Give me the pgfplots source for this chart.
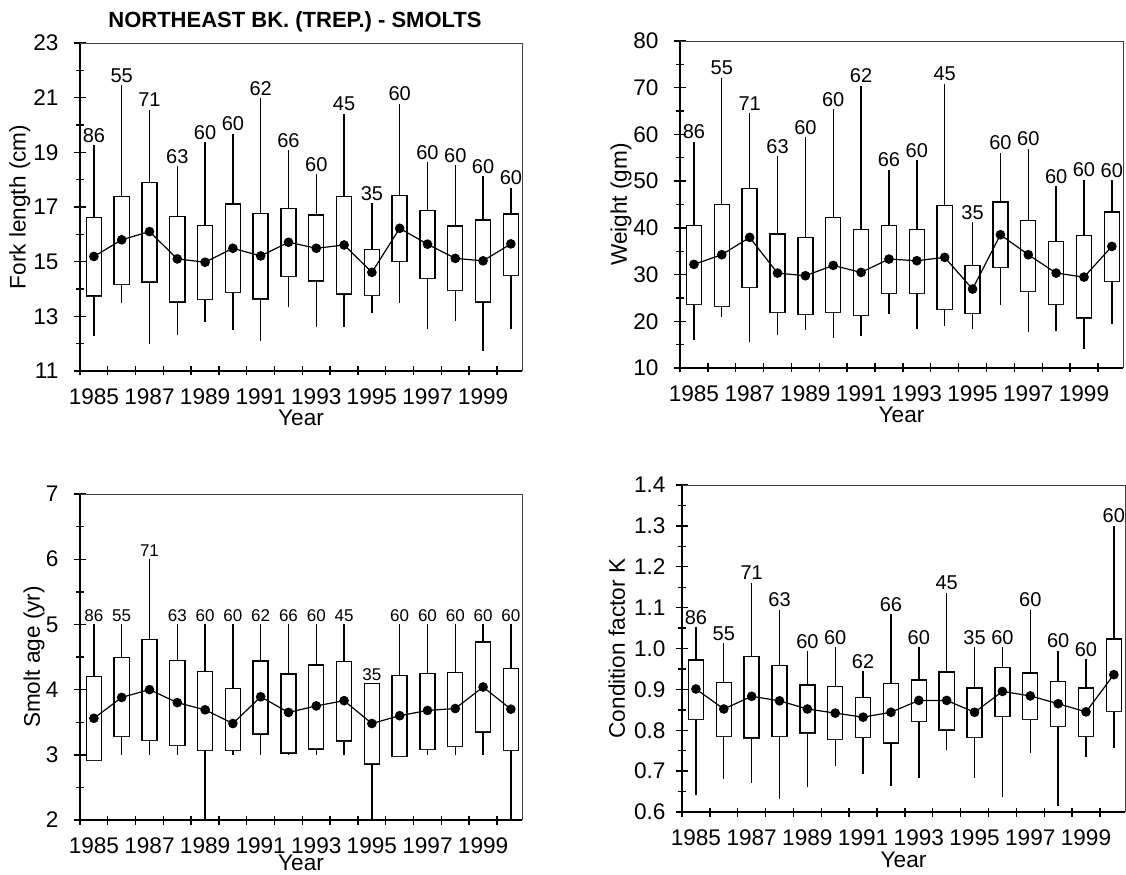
\documentclass[border=0pt]{standalone}
\usepackage{fontspec}
\setmainfont{Liberation Sans}
\usepackage{pgfplots}
\usepackage{pgfplotstable}
\pgfplotsset{compat=1.18}
\usepgfplotslibrary{statistics}

% yr lw q1 q3 uw mean n
\pgfplotstableread{
yr   lw    q1    q3    uw    mean  n
1985 12.28 13.74 16.61 19.25 15.19 86
1986 13.50 14.17 17.38 21.45 15.80 55
1987 11.99 14.26 17.90 20.56 16.10 71
1988 12.32 13.53 16.65 18.50 15.10 63
1989 12.80 13.62 16.33 19.37 14.98 60
1990 12.50 13.88 17.11 19.68 15.49 60
1991 12.11 13.63 16.77 20.97 15.21 62
1992 13.33 14.45 16.94 19.08 15.71 66
1993 12.62 14.29 16.70 18.20 15.49 60
1994 12.62 13.82 17.38 20.41 15.61 45
1995 13.13 13.77 15.45 17.14 14.61 35
1996 13.50 15.00 17.41 20.77 16.22 60
1997 12.52 14.38 16.87 18.63 15.64 60
1998 12.83 13.94 16.30 18.53 15.12 60
1999 11.74 13.53 16.52 18.12 15.03 60
2000 12.52 14.50 16.75 17.71 15.65 60
}\tabA

\pgfplotstableread{
yr   lw    q1    q3    uw    mean  n
1985 16.10 23.61 40.46 58.40 32.18 86
1986 20.90 23.18 44.95 72.10 34.25 55
1987 15.55 27.18 48.38 64.60 37.96 71
1988 17.10 21.90 38.67 55.30 30.32 63
1989 18.04 21.47 37.90 59.44 29.75 60
1990 16.47 21.83 42.20 65.44 31.96 60
1991 16.83 21.19 39.60 70.44 30.46 62
1992 21.60 25.90 40.46 52.45 33.32 66
1993 18.40 25.90 39.67 54.45 32.96 60
1994 18.90 22.54 44.81 70.86 33.68 45
1995 18.40 21.61 31.89 41.24 26.90 35
1996 23.40 31.46 45.52 56.09 38.53 60
1997 17.69 26.40 41.60 56.95 34.25 60
1998 17.90 23.54 37.05 48.90 30.32 60
1999 14.12 20.68 38.30 50.30 29.46 60
2000 19.47 28.54 43.40 50.20 36.03 60
}\tabB

\pgfplotstableread{
yr   lw   q1   q3   uw   mean n
1985 2.91 2.91 4.20 5.00 3.56 86
1986 3.00 3.28 4.49 5.00 3.88 55
1987 3.00 3.22 4.77 6.00 4.00 71
1988 3.00 3.14 4.45 5.00 3.80 63
1989 2.00 3.07 4.28 5.00 3.69 60
1990 3.00 3.07 4.02 5.00 3.48 60
1991 3.00 3.32 4.44 5.00 3.89 62
1992 3.00 3.03 4.24 5.00 3.65 66
1993 3.00 3.09 4.38 5.00 3.75 60
1994 3.00 3.21 4.43 5.00 3.83 45
1995 2.00 2.86 4.09 4.09 3.48 35
1996 2.97 2.97 4.22 5.00 3.60 60
1997 3.00 3.08 4.25 5.00 3.68 60
1998 3.00 3.13 4.26 5.00 3.71 60
1999 3.00 3.35 4.73 5.00 4.04 60
2000 2.00 3.07 4.32 5.00 3.70 60
}\tabC

\pgfplotstableread{
yr   lw    q1    q3    uw    mean  n
1985 0.641 0.827 0.972 1.052 0.901 86
1986 0.681 0.785 0.917 1.013 0.852 55
1987 0.671 0.781 0.980 1.161 0.883 71
1988 0.633 0.785 0.958 1.095 0.872 63
1989 0.661 0.793 0.911 0.993 0.852 60
1990 0.712 0.777 0.907 1.003 0.842 60
1991 0.693 0.783 0.880 0.944 0.832 62
1992 0.663 0.769 0.915 1.084 0.844 66
1993 0.683 0.821 0.923 1.003 0.873 60
1994 0.752 0.801 0.943 1.137 0.873 45
1995 0.683 0.782 0.903 1.003 0.844 35
1996 0.636 0.834 0.954 1.003 0.895 60
1997 0.744 0.826 0.940 1.095 0.884 60
1998 0.615 0.809 0.919 0.994 0.865 60
1999 0.734 0.785 0.903 0.974 0.845 60
2000 0.756 0.846 1.023 1.300 0.936 60
}\tabD

\pgfplotsset{
  panel/.style={
    scale only axis,
    axis lines*=left,
    xmin=1984.5, xmax=2000.4,
    xtick={1985,1987,...,1999},
    minor xtick={1984.5,1985.5,...,1999.5},
    major x tick style={draw=none},
    /pgf/number format/1000 sep={},
    /pgf/number format/assume math mode=true,
    tick align=center,
    major tick length=6.5pt, minor tick length=4.5pt,
    every tick/.style={black, line width=0.7pt},
    axis line style={line width=0.9pt},
    tick label style={font=\fontsize{11.3}{13}\selectfont},
    xticklabel style={anchor=base, yshift=-13.7pt},
    yticklabel style={xshift=-4pt},
    label style={font=\fontsize{11.3}{14}\selectfont},
    xlabel={Year},
    xlabel style={at={(axis description cs:0.5,0)}, anchor=base, yshift=-27.5pt},
    clip=false,
    boxplot/draw direction=y,
    boxplot/box extend=0.54,
    boxplot/whisker extend=0,
    boxplot/every median/.style={draw=none},
  },
  boxst/.style={black, line width=0.7pt, fill=white},
  meanst/.style={black, line width=0.6pt, mark=*, mark size=2.1pt, mark options={fill=black, solid}},
  nst/.style={only marks, mark=none, nodes near coords, point meta=explicit symbolic,
    every node near coord/.append style={anchor=south, inner sep=1.2pt, font=\fontsize{10}{12}\selectfont}},
}

% draws the 16 boxes of a table, row by row, from its own values
\newcommand\boxes[1]{%
  \pgfplotsinvokeforeach{0,...,15}{%
    \pgfplotstablegetelem{##1}{yr}\of#1\edef\Vyr{\pgfplotsretval}%
    \pgfplotstablegetelem{##1}{lw}\of#1\edef\Vlw{\pgfplotsretval}%
    \pgfplotstablegetelem{##1}{q1}\of#1\edef\Vqa{\pgfplotsretval}%
    \pgfplotstablegetelem{##1}{q3}\of#1\edef\Vqb{\pgfplotsretval}%
    \pgfplotstablegetelem{##1}{uw}\of#1\edef\Vuw{\pgfplotsretval}%
    \edef\doplot{\noexpand\addplot[boxst, boxplot prepared={draw position=\Vyr, lower whisker=\Vlw, lower quartile=\Vqa, median=\Vqa, upper quartile=\Vqb, upper whisker=\Vuw}] coordinates {};}%
    \doplot
  }%
}
% thin top and right frame lines
\newcommand\frameTR{\draw[black!75, line width=0.45pt] (rel axis cs:0,1) -- (rel axis cs:1,1) -- (rel axis cs:1,0);}

\begin{document}
\begin{tikzpicture}
\useasboundingbox (0,0) rectangle (563pt,437pt);

% ---------- Panel 1: Fork length
\begin{axis}[panel, at={(40pt,251.5pt)}, anchor=south west, width=221pt, height=164pt,
  ymin=11, ymax=23, ytick={11,13,...,23}, minor ytick={12,14,...,22},
  ylabel={Fork length (cm)},
  ylabel style={at={(axis description cs:-0.136,0.5)}, anchor=center},
  title={NORTHEAST BK. (TREP.) - SMOLTS},
  title style={font=\fontsize{11}{13}\selectfont\bfseries, xshift=-3pt, yshift=-4pt}]
\frameTR
\boxes{\tabA}
\addplot[meanst] table[x=yr, y=mean] {\tabA};
\addplot[nst] table[x=yr, y=uw, meta=n] {\tabA};
\end{axis}

% ---------- Panel 2: Weight
\begin{axis}[panel, at={(340pt,253pt)}, anchor=south west, width=221.5pt, height=163.5pt,
  ymin=10, ymax=80, ytick={10,20,...,80}, minor ytick={15,25,...,75},
  ylabel={Weight (gm)},
  ylabel style={at={(axis description cs:-0.133,0.5)}, anchor=center}]
\frameTR
\boxes{\tabB}
\addplot[meanst] table[x=yr, y=mean] {\tabB};
\addplot[nst] table[x=yr, y=uw, meta=n] {\tabB};
\end{axis}

% ---------- Panel 3: Smolt age
\begin{axis}[panel, at={(40pt,27pt)}, anchor=south west, width=221pt, height=163pt,
  ymin=2, ymax=7, ytick={2,3,...,7}, minor ytick={2.5,3.5,...,6.5},
  ylabel={Smolt age (yr)},
  ylabel style={at={(axis description cs:-0.104,0.5)}, anchor=center},
  xlabel style={yshift=2.5pt}]
\frameTR
\boxes{\tabC}
\addplot[meanst] table[x=yr, y=mean] {\tabC};
\addplot[nst, every node near coord/.append style={font=\fontsize{8.5}{10}\selectfont}] table[x=yr, y=uw, meta=n] {\tabC};
\end{axis}

% ---------- Panel 4: Condition factor
\begin{axis}[panel, at={(341pt,31pt)}, anchor=south west, width=221.5pt, height=163.5pt,
  ymin=0.6, ymax=1.4, ytick={0.6,0.7,0.8,0.9,1.0,1.1,1.2,1.3,1.4},
  minor ytick={0.65,0.75,0.85,0.95,1.05,1.15,1.25,1.35},
  yticklabel style={xshift=2.5pt, /pgf/number format/.cd, fixed, fixed zerofill, precision=1},
  ylabel={Condition factor K},
  ylabel style={at={(axis description cs:-0.147,0.5)}, anchor=center}]
\frameTR
\boxes{\tabD}
\addplot[meanst] table[x=yr, y=mean] {\tabD};
\addplot[nst] table[x=yr, y=uw, meta=n] {\tabD};
\end{axis}
\end{tikzpicture}
\end{document}
